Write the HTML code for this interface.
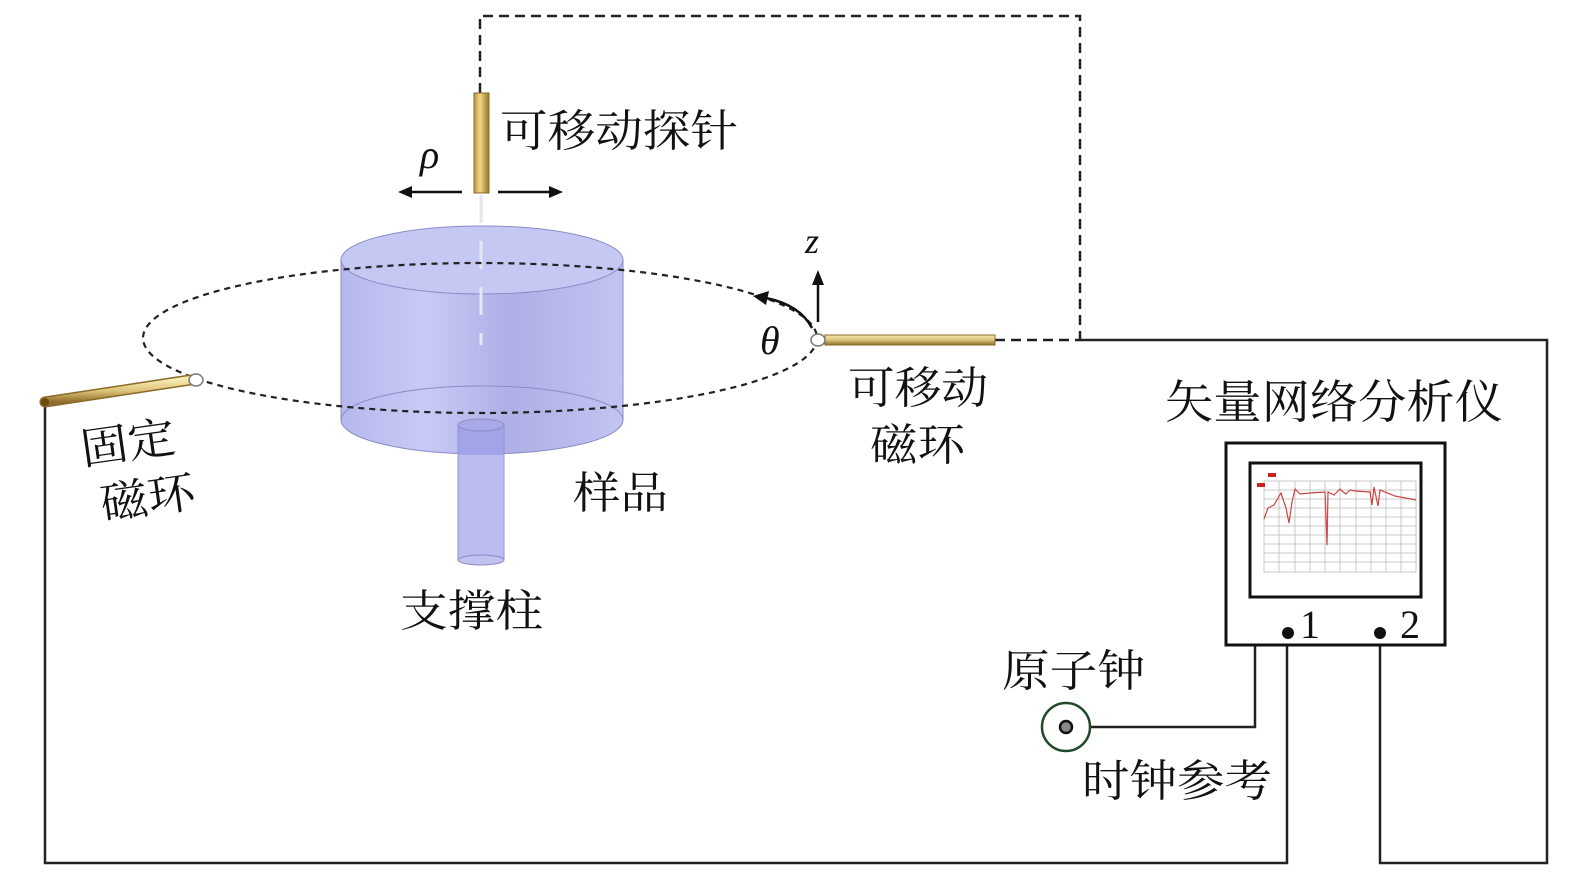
<!DOCTYPE html>
<html><head><meta charset="utf-8"><style>
html,body{margin:0;padding:0;background:#fff;}
svg{display:block;}
text{font-family:"Liberation Serif","Noto Serif CJK SC",serif;fill:#111;}
</style></head><body>
<svg width="1575" height="886" viewBox="0 0 1575 886" xmlns="http://www.w3.org/2000/svg">
<defs>
<linearGradient id="gold" x1="0" y1="0" x2="1" y2="0">
<stop offset="0" stop-color="#b8913a"/><stop offset="0.4" stop-color="#f0d98a"/><stop offset="1" stop-color="#9a7428"/>
</linearGradient>
<linearGradient id="goldh" x1="0" y1="0" x2="0" y2="1">
<stop offset="0" stop-color="#f6eab0"/><stop offset="0.5" stop-color="#dcc27a"/><stop offset="1" stop-color="#8f6d2a"/>
</linearGradient>
<linearGradient id="cyl" x1="0" y1="0" x2="1" y2="0">
<stop offset="0" stop-color="#b6b8ec"/><stop offset="0.3" stop-color="#c8caf6"/><stop offset="0.6" stop-color="#aeb0e6"/><stop offset="1" stop-color="#c2c4f2"/>
</linearGradient>
</defs>

<!-- wires -->
<path d="M480,93 V16 H1080 V340" fill="none" stroke="#222" stroke-width="2.5" stroke-dasharray="10,6"/>
<path d="M995,340 H1080" fill="none" stroke="#222" stroke-width="2.5" stroke-dasharray="10,6"/>
<path d="M1080,340 H1547 V863 H1380 V633" fill="none" stroke="#222" stroke-width="2.5"/>
<path d="M45,402 V863 H1287 V633" fill="none" stroke="#222" stroke-width="2.5"/>
<path d="M1090,727 H1255 V645" fill="none" stroke="#222" stroke-width="2.5"/>

<!-- cylinder -->
<path d="M341,260 V420 A141,34 0 0 0 623,420 V260 Z" fill="url(#cyl)" stroke="#8a8cc8" stroke-width="1"/>
<ellipse cx="482" cy="260" rx="141" ry="34" fill="#c6c8f4" stroke="#8a8cc8" stroke-width="1"/>
<path d="M341,420 A141,34 0 0 1 623,420" fill="none" stroke="#8a8cc8" stroke-width="1"/>
<rect x="458" y="425" width="46" height="135" fill="#b4b6ee" stroke="#8a8cc8" stroke-width="1" opacity="0.9"/>
<rect x="458" y="425" width="46" height="30" fill="#9a9ce6" opacity="0.7"/>
<ellipse cx="481" cy="425" rx="23" ry="6" fill="#a8aae8" stroke="#8a8cc8"/>
<ellipse cx="481" cy="560" rx="23" ry="5" fill="#c0c2f0" stroke="#8a8cc8"/>
<path d="M481,195 V345" stroke="#e6e6f0" stroke-width="3" stroke-dasharray="28,18"/>

<!-- dashed orbit -->
<ellipse cx="480" cy="338" rx="337" ry="75" fill="none" stroke="#222" stroke-width="2.2" stroke-dasharray="6,5"/>

<!-- probe -->
<rect x="474" y="93" width="15" height="100" fill="url(#gold)" stroke="#8a6a28" stroke-width="1"/>
<path d="M462,192 H406" stroke="#111" stroke-width="2.5"/><path d="M398,192 L412,186 L412,198 Z" fill="#111"/>
<path d="M498,192 H554" stroke="#111" stroke-width="2.5"/><path d="M563,192 L549,186 L549,198 Z" fill="#111"/>
<text x="420" y="168" font-size="40" font-style="italic">ρ</text>

<!-- right loop rod -->
<rect x="825" y="335" width="170" height="10" fill="url(#goldh)" stroke="#8a6a28" stroke-width="1"/>
<ellipse cx="818" cy="340" rx="7" ry="6" fill="#fff" stroke="#777" stroke-width="1.5"/>
<path d="M818,322 V282" stroke="#111" stroke-width="2.5"/><path d="M818,270 L812,285 L824,285 Z" fill="#111"/>
<text x="805" y="253" font-size="36" font-style="italic">z</text>
<path d="M812,328 Q800,305 766,298" fill="none" stroke="#111" stroke-width="2.5"/>
<path d="M753,296 L769,291 L766,305 Z" fill="#111"/>
<text x="760" y="354" font-size="40" font-style="italic">θ</text>

<!-- left rod -->
<path d="M45,402 L190,380" stroke="#8a6a28" stroke-width="11" stroke-linecap="round"/>
<path d="M45,402 L190,380" stroke="url(#goldh)" stroke-width="8" stroke-linecap="round"/>
<ellipse cx="196" cy="380" rx="7" ry="6" fill="#fff" stroke="#777" stroke-width="1.5"/>
<circle cx="45" cy="402" r="4" fill="#6b4b10"/>

<!-- VNA -->
<rect x="1226" y="443" width="219" height="202" fill="#fff" stroke="#111" stroke-width="3"/>
<rect x="1250" y="463" width="171" height="134" fill="#fff" stroke="#111" stroke-width="3"/>
<g stroke="#bbb" stroke-width="0.8">
<path d="M1264,481 H1416 M1264,490 H1416 M1264,499 H1416 M1264,508 H1416 M1264,517 H1416 M1264,526 H1416 M1264,535 H1416 M1264,544 H1416 M1264,553 H1416 M1264,562 H1416 M1264,572 H1416"/>
<path d="M1264,481 V572 M1279,481 V572 M1295,481 V572 M1310,481 V572 M1325,481 V572 M1340,481 V572 M1356,481 V572 M1371,481 V572 M1386,481 V572 M1401,481 V572 M1416,481 V572"/>
</g>
<path d="M1264,519 L1268,508 L1274,505 L1281,493 L1286,508 L1289,523 L1292,502 L1295,489 L1300,494 L1310,493 L1325,492 L1327,545 L1328,492 L1334,495 L1340,489 L1342,491 L1346,494 L1350,490 L1355,491 L1370,492 L1372,505 L1374,487 L1378,506 L1380,490 L1395,496 L1416,500" fill="none" stroke="#c44" stroke-width="1.2"/>
<rect x="1257" y="483" width="8" height="4" fill="#c22"/>
<rect x="1268" y="473" width="8" height="4" fill="#c22"/>
<text x="1300" y="638" font-size="40">1</text>
<text x="1400" y="638" font-size="40">2</text>
<circle cx="1288" cy="633" r="6" fill="#111"/>
<circle cx="1380" cy="633" r="6" fill="#111"/>

<!-- atomic clock -->
<circle cx="1066" cy="727" r="24" fill="#fff" stroke="#1e4a2a" stroke-width="2.5"/>
<circle cx="1066" cy="727" r="6" fill="#888" stroke="#111" stroke-width="2.5"/>

<!-- labels -->
<text x="500" y="146" font-size="44" textLength="238" lengthAdjust="spacingAndGlyphs">可移动探针</text>
<text x="848" y="403" font-size="44" textLength="140" lengthAdjust="spacingAndGlyphs">可移动</text>
<text x="870" y="460" font-size="44" textLength="95" lengthAdjust="spacingAndGlyphs">磁环</text>
<text x="1165" y="418" font-size="46" textLength="338" lengthAdjust="spacingAndGlyphs">矢量网络分析仪</text>
<text x="573" y="508" font-size="44" textLength="95" lengthAdjust="spacingAndGlyphs">样品</text>
<text x="400" y="626" font-size="44" textLength="143" lengthAdjust="spacingAndGlyphs">支撑柱</text>
<text x="1002" y="686" font-size="44" textLength="143" lengthAdjust="spacingAndGlyphs">原子钟</text>
<text x="1082" y="796" font-size="44" textLength="190" lengthAdjust="spacingAndGlyphs">时钟参考</text>
<g transform="rotate(-8 130 440)">
<text x="80" y="458" font-size="44" textLength="95" lengthAdjust="spacingAndGlyphs">固定</text>
<text x="92" y="515" font-size="44" textLength="95" lengthAdjust="spacingAndGlyphs">磁环</text>
</g>
</svg>
</body></html>
